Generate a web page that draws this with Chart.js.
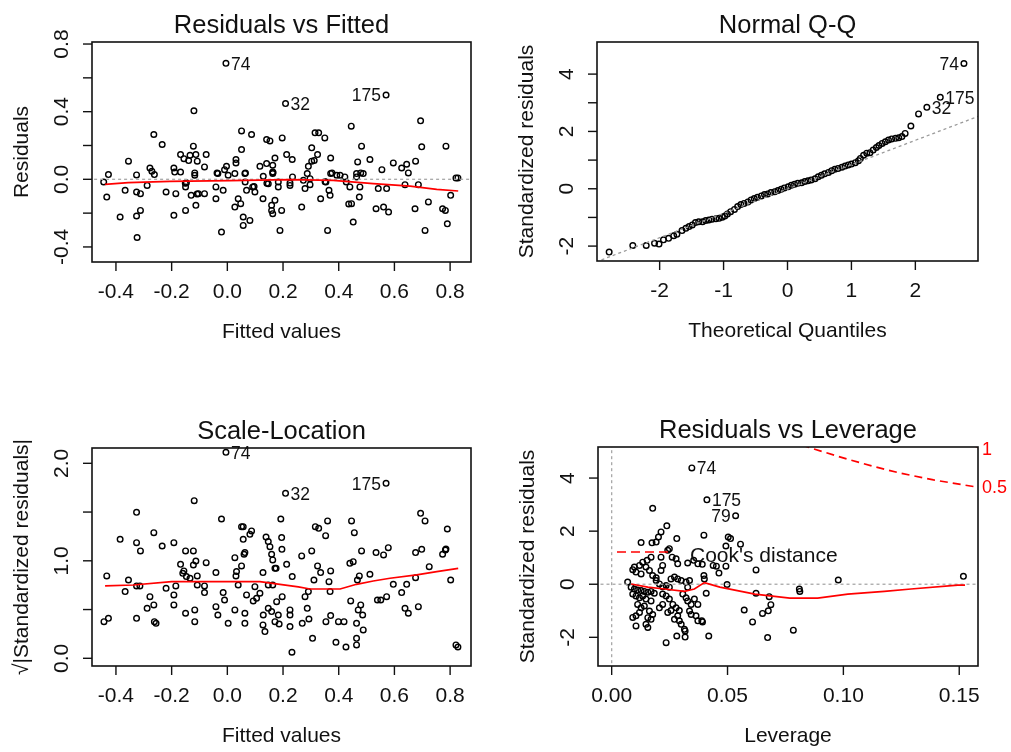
<!DOCTYPE html>
<html lang="en">
<head>
<meta charset="UTF-8">
<title>lm diagnostics</title>
<script src="https://cdn.jsdelivr.net/npm/chart.js"></script>
<style>
  body { margin: 0; background: #fff; }
  #wrap { position: relative; width: 1011px; height: 752px; }
  #wrap canvas { position: absolute; }
</style>
</head>
<body>
<div id="wrap">
  <canvas id="c1" width="505" height="376" style="left:0;top:0"></canvas>
  <canvas id="c2" width="506" height="376" style="left:505px;top:0"></canvas>
  <canvas id="c3" width="505" height="376" style="left:0;top:376px"></canvas>
  <canvas id="c4" width="506" height="376" style="left:505px;top:376px"></canvas>
</div>
<script>
// ---- Residuals vs Fitted (first three points are the labelled ones: 74, 32, 175)
const p1Fitted = [-0.005, 0.209, 0.570,
  -0.444,-0.427,-0.433,-0.385,-0.367,-0.355,-0.326,-0.326,-0.312,-0.326,
  -0.312,-0.324,-0.288,-0.278,-0.271,-0.262,-0.264,-0.234,-0.220,-0.192,
  -0.189,-0.185,-0.192,-0.168,-0.168,-0.156,-0.150,-0.147,-0.134,-0.130,
  -0.150,-0.122,-0.120,-0.117,-0.117,-0.113,-0.108,-0.113,-0.104,-0.082,
  -0.082,-0.076,-0.041,-0.041,-0.034,-0.021,-0.015,-0.010,-0.003,0.003,
  0.027,0.027,0.031,0.031,0.051,0.051,0.039,0.048,0.057,0.057,
  0.063,0.064,0.069,0.081,0.087,0.091,0.099,0.117,0.128,0.129,
  0.141,0.153,0.141,0.163,0.163,0.163,0.147,0.159,0.159,0.163,
  0.171,0.171,0.183,0.183,0.189,0.197,0.195,0.213,0.225,0.225,
  0.233,0.234,0.267,0.273,0.279,0.287,0.291,0.297,0.297,0.303,
  0.303,0.315,0.328,0.324,0.335,0.350,0.354,0.360,0.365,0.369,
  0.371,0.371,0.393,0.405,0.422,0.427,0.440,0.445,0.446,0.452,
  0.464,0.464,0.468,0.474,0.476,0.482,0.479,0.488,0.512,0.534,
  0.542,0.555,0.561,0.572,0.579,0.596,0.626,0.638,0.644,0.650,
  0.676,0.674,0.686,0.694,0.698,0.710,0.722,0.773,0.783,0.785,
  0.790,0.802,0.821,0.828,
  -0.139,-0.151,-0.109,-0.037,0.065,0.096,0.142,0.164,0.312,0.376,0.351,0.436];
const p1Resid = [0.686, 0.448, 0.498,
  -0.016,0.028,-0.105,-0.223,-0.065,0.107,0.026,-0.075,-0.085,-0.217,
  -0.184,-0.344,-0.036,0.067,0.047,0.028,0.265,0.206,-0.075,0.067,
  0.043,-0.085,-0.213,0.146,0.043,0.122,-0.045,-0.020,0.142,-0.095,
  -0.184,0.196,0.405,0.038,0.024,0.146,0.107,-0.154,-0.085,0.073,
  -0.085,0.146,-0.045,-0.115,0.034,-0.312,-0.065,0.057,0.077,0.024,
  -0.164,0.034,0.117,0.097,0.176,0.286,-0.115,-0.144,-0.223,-0.273,
  0.034,-0.016,-0.065,-0.243,0.265,-0.045,-0.075,0.077,-0.115,0.018,
  0.235,0.227,0.093,0.083,0.043,0.034,-0.026,-0.154,-0.184,-0.203,
  -0.124,0.126,-0.016,-0.045,-0.302,0.245,-0.184,0.146,-0.022,-0.036,
  0.117,0.014,-0.164,-0.006,-0.055,0.034,0.077,-0.032,0.004,0.186,
  0.107,0.275,0.275,0.146,-0.115,0.245,-0.016,-0.302,-0.065,-0.095,
  0.034,0.126,0.024,0.024,0.014,-0.016,-0.045,0.314,-0.144,-0.253,
  0.034,0.014,0.103,-0.105,-0.045,0.196,0.038,0.034,0.117,-0.174,
  -0.055,0.057,-0.164,-0.055,-0.194,0.097,0.067,-0.032,0.089,0.038,
  0.107,-0.174,-0.032,0.346,0.192,-0.302,-0.134,-0.174,-0.184,0.196,
  -0.263,-0.095,0.008,0.008,
  0.111,-0.024,-0.087,0.038,0.038,-0.043,-0.024,0.041,0.111,0.038,-0.014,-0.146];
const p1SmoothX = [-0.439,-0.356,-0.206,0.009,0.225,0.380,0.524,0.656,0.752,0.829];
const p1SmoothY = [-0.030,-0.020,-0.012,-0.008,-0.002,-0.006,-0.026,-0.040,-0.059,-0.069];
const p1Ids = ['74', '32', '175'];
const p1IdSide = ['right', 'right', 'left'];

// ---- Normal Q-Q (last three points: 32, 175, 74)
const qqTheo = [-2.79,-2.42,-2.21,-2.08,-2.01,-1.94,-1.86,-1.78,-1.73,-1.65,
  -1.59,-1.54,-1.49,-1.44,-1.39,-1.33,-1.28,-1.23,-1.18,-1.12,
  -1.07,-1.02,-0.98,-0.94,-0.89,-0.83,-0.78,-0.73,-0.68,-0.62,
  -0.57,-0.52,-0.47,-0.41,-0.36,-0.31,-0.26,-0.20,-0.15,-0.10,
  -0.05,0.01,0.06,0.11,0.16,0.22,0.27,0.32,0.37,0.43,
  0.48,0.53,0.58,0.64,0.69,0.74,0.79,0.85,0.90,0.95,
  1.00,1.06,1.11,1.14,1.19,1.24,1.29,1.34,1.39,1.43,
  1.48,1.53,1.58,1.63,1.69,1.74,1.79,1.84,1.93,2.05,
  2.18,2.39,2.76];
const qqStd = [-2.21,-1.98,-1.98,-1.90,-1.93,-1.78,-1.73,-1.64,-1.59,-1.46,
  -1.38,-1.32,-1.26,-1.18,-1.15,-1.15,-1.11,-1.09,-1.06,-1.05,
  -1.03,-0.99,-0.95,-0.88,-0.80,-0.72,-0.62,-0.55,-0.51,-0.46,
  -0.39,-0.34,-0.30,-0.25,-0.20,-0.18,-0.13,-0.10,-0.06,-0.02,
  0.03,0.07,0.12,0.16,0.19,0.21,0.25,0.28,0.31,0.35,
  0.42,0.47,0.52,0.57,0.63,0.68,0.71,0.75,0.79,0.83,
  0.86,0.91,0.98,1.06,1.17,1.24,1.26,1.35,1.44,1.51,
  1.58,1.64,1.70,1.74,1.76,1.78,1.82,1.93,2.19,2.61,
  2.84,3.19,4.37];
const qqLineX = [-2.91, 3.0];
const qqLineY = [-2.48, 2.54];
const qqIds = ['32', '175', '74'];
const qqIdSide = ['right', 'right', 'left'];

// ---- Scale-Location (first three: 74, 32, 175)
const p3Fitted = [-0.005, 0.209, 0.570,
  -0.443,-0.427,-0.433,-0.385,-0.367,-0.355,-0.326,-0.326,-0.312,-0.326,
  -0.314,-0.326,-0.288,-0.278,-0.264,-0.264,-0.262,-0.256,-0.234,-0.220,
  -0.192,-0.192,-0.192,-0.185,-0.168,-0.160,-0.156,-0.150,-0.150,-0.147,
  -0.134,-0.122,-0.122,-0.113,-0.119,-0.117,-0.117,-0.108,-0.108,-0.082,
  -0.082,-0.076,-0.041,-0.041,-0.034,-0.021,-0.015,-0.010,0.003,0.027,
  0.027,0.031,0.033,0.039,0.051,0.051,0.057,0.057,0.060,0.063,
  0.063,0.063,0.069,0.081,0.087,0.093,0.099,0.105,0.117,0.128,
  0.128,0.129,0.139,0.147,0.153,0.159,0.163,0.171,0.175,0.147,
  0.163,0.135,0.147,0.159,0.171,0.177,0.183,0.186,0.192,0.195,
  0.196,0.197,0.213,0.225,0.225,0.225,0.232,0.233,0.267,0.269,
  0.279,0.287,0.291,0.293,0.303,0.306,0.311,0.316,0.328,0.324,
  0.335,0.353,0.354,0.360,0.365,0.369,0.371,0.371,0.390,0.399,
  0.419,0.426,0.440,0.443,0.446,0.452,0.456,0.464,0.464,0.464,
  0.467,0.470,0.474,0.479,0.482,0.486,0.488,0.512,0.534,0.539,
  0.551,0.561,0.572,0.578,0.596,0.626,0.638,0.644,0.650,0.676,
  0.676,0.686,0.694,0.698,0.710,0.725,0.773,0.783,0.785,0.790,
  0.802,0.821,0.828];
const p3SqrtStd = [2.113, 1.692, 1.795,
  0.376,0.410,0.845,1.220,0.684,0.803,1.497,1.186,1.101,0.742,
  0.742,0.410,0.513,0.632,0.547,1.289,0.376,0.359,1.152,0.718,
  1.186,0.650,0.547,0.742,0.964,0.872,0.896,1.101,0.462,0.838,
  0.821,1.101,0.957,0.998,1.617,0.496,0.376,0.845,0.752,0.742,
  0.674,0.981,0.879,0.530,0.444,1.429,0.674,0.598,0.359,1.032,
  0.496,0.845,0.889,0.752,0.947,1.350,1.350,1.220,1.067,1.084,
  0.462,0.359,0.650,1.272,1.306,0.588,0.735,0.615,0.667,0.879,
  0.342,0.444,1.244,1.197,1.145,1.067,1.009,0.923,0.923,0.752,
  0.752,0.274,0.513,0.479,0.376,0.581,0.444,0.352,1.429,1.238,
  1.118,0.632,0.964,0.496,0.444,0.325,0.062,0.838,1.050,0.359,
  0.632,0.513,0.684,0.403,1.101,0.205,0.803,1.350,1.333,0.947,
  0.879,1.258,0.376,1.409,0.786,0.684,0.896,0.438,0.164,0.376,
  0.376,0.116,0.974,0.588,1.409,0.991,1.289,0.205,0.137,0.359,
  0.803,0.496,0.845,0.547,1.101,0.444,0.291,0.862,1.084,0.598,
  0.598,1.060,0.632,1.135,0.759,0.674,0.513,0.759,0.462,1.084,
  0.827,0.530,1.487,1.118,1.409,0.940,1.067,1.111,1.121,1.326,
  0.803,0.137,0.116];
const p3SmoothX = [-0.439,-0.338,-0.200,0.117,0.189,0.255,0.297,0.405,0.464,0.524,0.584,0.680,0.752,0.829];
const p3SmoothY = [0.742,0.752,0.786,0.786,0.759,0.732,0.711,0.711,0.759,0.793,0.821,0.855,0.889,0.923];
const p3Ids = ['74', '32', '175'];
const p3IdSide = ['right', 'right', 'left'];

// ---- Residuals vs Leverage (first three: 74, 175, 79)
const p4Lev = [0.0346, 0.0411, 0.0535,
  0.0177,0.0238,0.0213,0.0202,0.0192,0.0174,0.0281,0.0127,0.0249,0.0242,
  0.0398,0.0261,0.0278,0.0285,0.0328,0.0354,0.0213,0.0220,0.0213,0.0170,
  0.0153,0.0134,0.0120,0.0098,0.0091,0.0105,0.0127,0.0148,0.0163,0.0177,
  0.0192,0.0069,0.0084,0.0098,0.0112,0.0127,0.0141,0.0156,0.0170,0.0184,
  0.0091,0.0105,0.0120,0.0134,0.0148,0.0170,0.0112,0.0127,0.0141,0.0163,
  0.0177,0.0156,0.0170,0.0148,0.0120,0.0105,0.0091,0.0105,0.0156,0.0192,
  0.0206,0.0220,0.0235,0.0249,0.0256,0.0271,0.0285,0.0300,0.0321,0.0336,
  0.0328,0.0220,0.0235,0.0249,0.0264,0.0220,0.0206,0.0242,0.0256,0.0278,
  0.0292,0.0285,0.0271,0.0292,0.0300,0.0314,0.0307,0.0321,0.0328,0.0343,
  0.0357,0.0372,0.0336,0.0343,0.0364,0.0372,0.0389,0.0408,0.0400,0.0398,
  0.0317,0.0317,0.0281,0.0235,0.0419,0.0372,
  0.0503,0.0513,0.0556,0.0493,0.0391,0.0438,0.0452,0.0463,0.0493,0.0623,
  0.0498,0.0623,0.0680,0.0687,0.0676,0.0651,0.0572,0.0608,0.0392,0.0673,
  0.0784,0.0810,0.0812,0.0978,0.1518];
const p4Std = [4.38, 3.18, 2.58,
  2.86,2.20,1.97,1.78,1.59,1.56,1.72,1.57,1.34,1.28,
  1.85,1.02,0.96,0.77,0.80,0.90,1.02,0.71,0.52,1.02,
  0.90,0.83,0.71,0.65,0.55,0.46,0.39,0.65,0.52,0.33,
  0.24,0.08,-0.11,-0.18,-0.22,-0.24,-0.27,-0.30,-0.27,-0.34,
  -0.37,-0.44,-0.51,-0.44,-0.56,-0.63,-0.76,-0.89,-0.82,-1.01,
  -1.14,-1.26,-1.32,-1.51,-1.06,-1.19,-1.25,-1.57,-1.63,0.14,
  0.01,-0.09,-0.05,-0.11,0.20,0.27,0.20,0.14,0.08,0.14,
  -0.11,-0.37,-0.44,-0.56,-0.76,-0.76,-0.89,-1.06,-0.99,-0.89,
  -0.99,-1.19,-1.32,-1.38,-1.51,-1.70,-0.37,-0.51,-0.63,-0.76,
  -0.56,-0.76,-1.01,-1.14,-1.19,-1.38,-1.38,-0.34,0.20,0.33,
  -1.76,-1.99,-1.95,-2.20,-1.95,0.77,
  1.78,1.72,1.51,1.44,0.75,0.71,0.68,0.42,0.68,0.54,
  -0.01,-0.34,-0.47,-0.77,-1.00,-1.10,-0.97,-1.42,-1.42,-2.01,
  -1.73,-0.18,-0.27,0.16,0.30];
const p4SmoothX = [0.0084,0.0156,0.0228,0.0314,0.0357,0.0400,0.0467,0.0618,0.0769,0.0889,0.1019,0.1177,0.1292,0.1494,0.1525];
const p4SmoothY = [0.01,-0.11,-0.18,-0.27,-0.18,0.06,-0.11,-0.37,-0.52,-0.52,-0.37,-0.27,-0.18,-0.03,-0.03];
const cookHalfX = [0.082, 0.0856, 0.0999, 0.1129, 0.1244, 0.1389, 0.1576, 0.160];
const cookHalfY = [5.25, 5.14, 4.76, 4.44, 4.19, 3.93, 3.66, 3.62];
const cookOneX = [0.1560, 0.1590];
const cookOneY = [5.24, 5.12];
const cookLevels = ['1', '0.5'];
const cookLevelY = [5.05, 3.61];
const p4Ids = ['74', '175', '79'];
const p4IdSide = ['right', 'right', 'left'];

const FONT = '"Liberation Sans", Arial, sans-serif';
const INK = '#111';
const RED = '#ff0000';

const pts = (xs, ys) => xs.map((x, i) => ({ x: x, y: ys[i] }));

function pointSet(data) {
  return { data: data, showLine: false, pointStyle: 'circle', pointRadius: 2.8,
    pointBorderWidth: 1.4, pointBorderColor: '#000', pointBackgroundColor: 'rgba(0,0,0,0)' };
}
function lineSet(data, color, width, dash) {
  return { data: data, showLine: true, pointRadius: 0, borderColor: color,
    borderWidth: width, borderDash: dash || [], clip: 0, tension: 0 };
}

function makeDeco(cfg) {
  return {
    id: 'deco',
    afterDatasetsDraw(chart) {
      const ctx = chart.ctx, a = chart.chartArea;
      const xs = chart.scales.x, ys = chart.scales.y;
      ctx.save();
      ctx.strokeStyle = INK; ctx.fillStyle = INK;
      ctx.lineWidth = 1.6;
      ctx.strokeRect(a.left, a.top, a.right - a.left, a.bottom - a.top);
      ctx.lineWidth = 1.4;
      ctx.font = '21px ' + FONT;
      ctx.textAlign = 'center';
      ctx.textBaseline = 'alphabetic';
      cfg.xTicks.forEach((v, i) => {
        const px = xs.getPixelForValue(v);
        ctx.beginPath(); ctx.moveTo(px, a.bottom); ctx.lineTo(px, a.bottom + 9); ctx.stroke();
        if (cfg.xLabels[i]) ctx.fillText(cfg.xLabels[i], px, a.bottom + 36);
      });
      cfg.yTicks.forEach((v, i) => {
        const py = ys.getPixelForValue(v);
        ctx.beginPath(); ctx.moveTo(a.left - 9, py); ctx.lineTo(a.left, py); ctx.stroke();
        if (cfg.yLabels[i]) {
          ctx.save(); ctx.translate(a.left - 24, py); ctx.rotate(-Math.PI / 2);
          ctx.fillText(cfg.yLabels[i], 0, 0); ctx.restore();
        }
      });
      const cx = (a.left + a.right) / 2;
      ctx.fillText(cfg.xTitle, cx, a.bottom + 76);
      ctx.save(); ctx.translate(a.left - 64, (a.top + a.bottom) / 2); ctx.rotate(-Math.PI / 2);
      ctx.fillText(cfg.yTitle, 0, 0); ctx.restore();
      ctx.font = '25.5px ' + FONT;
      ctx.fillText(cfg.title, cx, a.top - 9);

      // identified points
      const meta = chart.getDatasetMeta(cfg.pointDataset);
      ctx.font = '17.5px ' + FONT;
      ctx.textBaseline = 'middle';
      cfg.ids.forEach((id, k) => {
        const el = meta.data[cfg.idIndex[k]];
        if (cfg.idSide[k] === 'right') { ctx.textAlign = 'left'; ctx.fillText(id, el.x + 5, el.y + 1.5); }
        else { ctx.textAlign = 'right'; ctx.fillText(id, el.x - 5, el.y + 1.5); }
      });
      if (cfg.extra) cfg.extra(chart, ctx, a, xs, ys);
      ctx.restore();
    }
  };
}

function makeChart(id, pad, scales, datasets, cfg) {
  return new Chart(document.getElementById(id), {
    type: 'scatter',
    data: { datasets: datasets },
    options: {
      responsive: false, animation: false, devicePixelRatio: 1, events: [],
      layout: { padding: pad },
      plugins: { legend: { display: false }, tooltip: { enabled: false } },
      scales: {
        x: { type: 'linear', display: false, min: scales[0], max: scales[1] },
        y: { type: 'linear', display: false, min: scales[2], max: scales[3] }
      }
    },
    plugins: [makeDeco(cfg)]
  });
}

const fittedTicks = [-0.4, -0.2, 0, 0.2, 0.4, 0.6, 0.8];
const fittedTickLabels = ['-0.4', '-0.2', '0.0', '0.2', '0.4', '0.6', '0.8'];

// Panel 1
makeChart('c1', { left: 92, top: 42, right: 34, bottom: 114 }, [-0.486, 0.875, -0.489, 0.812], [
  lineSet(pts(p1SmoothX, p1SmoothY), RED, 1.7),
  lineSet(pts([-0.5, 0.9], [0, 0]), '#a8a8a8', 1.3, [3, 3]),
  pointSet(pts(p1Fitted, p1Resid))
], {
  title: 'Residuals vs Fitted', xTitle: 'Fitted values', yTitle: 'Residuals',
  xTicks: fittedTicks, xLabels: fittedTickLabels,
  yTicks: [-0.4, -0.2, 0, 0.2, 0.4, 0.6, 0.8], yLabels: ['-0.4', '', '0.0', '', '0.4', '', '0.8'],
  pointDataset: 2, ids: p1Ids, idIndex: [0, 1, 2], idSide: p1IdSide
});

// Panel 2
makeChart('c2', { left: 92, top: 42, right: 33, bottom: 115 }, [-2.98, 2.98, -2.52, 5.12], [
  lineSet(pts(qqLineX, qqLineY), '#9a9a9a', 1.3, [3, 3]),
  pointSet(pts(qqTheo, qqStd))
], {
  title: 'Normal Q-Q', xTitle: 'Theoretical Quantiles', yTitle: 'Standardized residuals',
  xTicks: [-2, -1, 0, 1, 2], xLabels: ['-2', '-1', '0', '1', '2'],
  yTicks: [-2, -1, 0, 1, 2, 3, 4], yLabels: ['-2', '', '0', '', '2', '', '4'],
  pointDataset: 1, ids: qqIds, idIndex: [qqTheo.length - 3, qqTheo.length - 2, qqTheo.length - 1], idSide: qqIdSide
});

// Panel 3
makeChart('c3', { left: 92, top: 72, right: 34, bottom: 86 }, [-0.486, 0.875, -0.079, 2.157], [
  lineSet(pts(p3SmoothX, p3SmoothY), RED, 1.7),
  pointSet(pts(p3Fitted, p3SqrtStd))
], {
  title: 'Scale-Location', xTitle: 'Fitted values', yTitle: '\u221A|Standardized residuals|',
  xTicks: fittedTicks, xLabels: fittedTickLabels,
  yTicks: [0, 0.5, 1, 1.5, 2], yLabels: ['0.0', '', '1.0', '', '2.0'],
  pointDataset: 1, ids: p3Ids, idIndex: [0, 1, 2], idSide: p3IdSide
});

// Panel 4
makeChart('c4', { left: 93, top: 71, right: 33, bottom: 86 }, [-0.0059, 0.1581, -3.08, 5.17], [
  lineSet(pts(p4SmoothX, p4SmoothY), RED, 1.7),
  lineSet(pts(cookHalfX, cookHalfY), RED, 1.7, [8, 5]),
  lineSet(pts(cookOneX, cookOneY), RED, 1.7, [8, 5]),
  lineSet(pts([-0.01, 0.17], [0, 0]), '#a8a8a8', 1.3, [3, 3]),
  lineSet(pts([0, 0], [-3.2, 5.3]), '#a8a8a8', 1.3, [3, 3]),
  pointSet(pts(p4Lev, p4Std))
], {
  title: 'Residuals vs Leverage', xTitle: 'Leverage', yTitle: 'Standardized residuals',
  xTicks: [0, 0.05, 0.10, 0.15], xLabels: ['0.00', '0.05', '0.10', '0.15'],
  yTicks: [-2, 0, 2, 4], yLabels: ['-2', '0', '2', '4'],
  pointDataset: 5, ids: p4Ids, idIndex: [0, 1, 2], idSide: p4IdSide,
  extra: (chart, ctx, a, xs, ys) => {
    // legend
    ctx.strokeStyle = RED; ctx.lineWidth = 1.7; ctx.setLineDash([9, 5]);
    ctx.beginPath(); ctx.moveTo(a.left + 19, a.top + 105); ctx.lineTo(a.left + 70, a.top + 105); ctx.stroke();
    ctx.setLineDash([]);
    ctx.fillStyle = INK; ctx.font = '21px ' + FONT; ctx.textAlign = 'left'; ctx.textBaseline = 'middle';
    ctx.fillText("Cook's distance", a.left + 92, a.top + 109);
    // contour levels
    ctx.fillStyle = RED; ctx.font = '18px ' + FONT;
    cookLevels.forEach((t, i) => ctx.fillText(t, a.right + 4, ys.getPixelForValue(cookLevelY[i])));
  }
});
</script>
</body>
</html>
